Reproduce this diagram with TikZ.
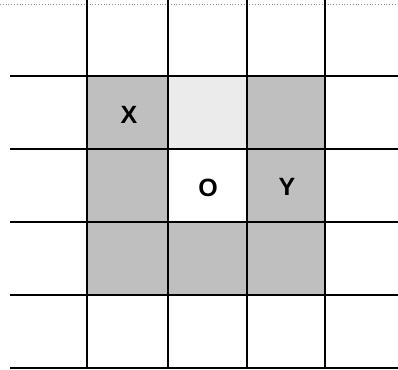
\documentclass[tikz,border=0pt]{standalone}
\usepackage{fontspec}
\setmainfont{Liberation Sans}
\begin{document}
\begin{tikzpicture}[x=1pt,y=-1pt,
  gridline/.style={line width=1.6pt,black},
  shade/.style={fill=black!25},
  lightshade/.style={fill=black!8},
  lbl/.style={font=\fontsize{25}{25}\selectfont\bfseries}]
\useasboundingbox (0,0) rectangle (398,369);
% shaded cells
\fill[shade] (87,76) rectangle (325,295);
\fill[white] (168,149) rectangle (247,222);
\fill[lightshade] (168,76) rectangle (247,149);
% faint top dotted line
\draw[black!45,line width=0.8pt,dotted] (0,4) -- (398,4);
% horizontal lines
\foreach \y in {76,149,222,295,368}
  \draw[gridline] (10,\y) -- (398,\y);
% vertical lines
\foreach \x in {87,168,247,325}
  \draw[gridline] (\x,0) -- (\x,368);
% labels
\node[lbl] (X) at (129,115) {X};
\node[lbl] (O) at (208,188) {O};
\node[lbl] (Y) at (287,187) {Y};
\end{tikzpicture}
\end{document}
